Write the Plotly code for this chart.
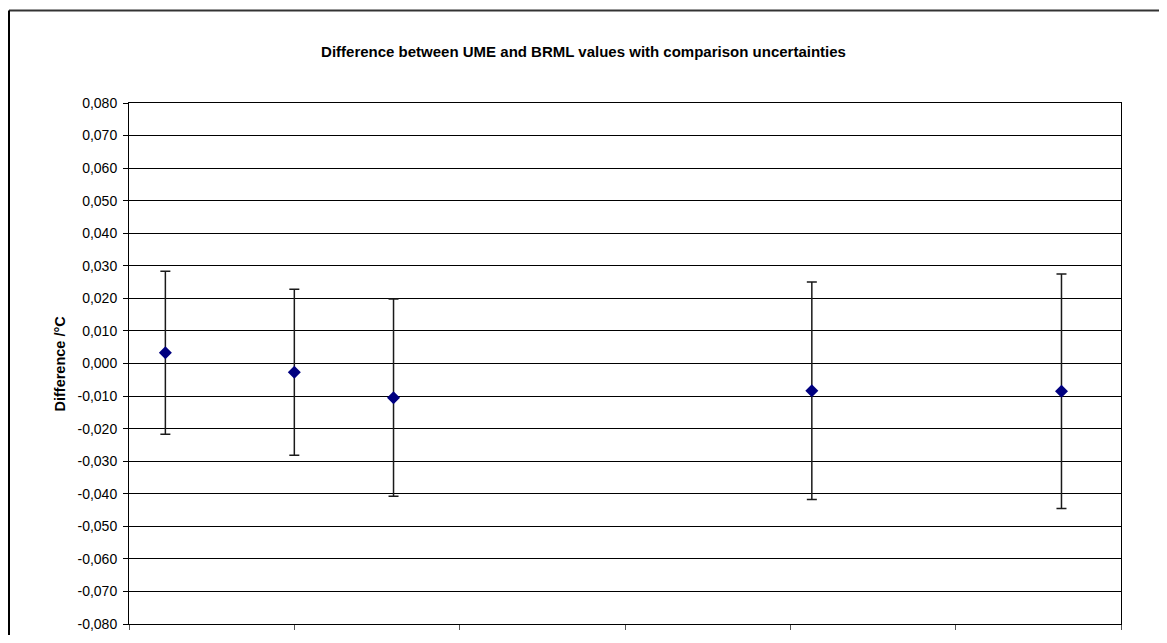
import plotly.graph_objects as go

# Data
x_pos = [0.22, 1.0, 1.6, 4.13, 5.64]
difference = [0.0033, -0.0027, -0.0105, -0.0084, -0.0085]
uncertainty = [0.0250, 0.0255, 0.0303, 0.0334, 0.0360]

y_tick_vals = [0.08, 0.07, 0.06, 0.05, 0.04, 0.03, 0.02, 0.01, 0.0,
               -0.01, -0.02, -0.03, -0.04, -0.05, -0.06, -0.07, -0.08]
y_tick_text = ["0,080", "0,070", "0,060", "0,050", "0,040", "0,030", "0,020", "0,010", "0,000",
               "-0,010", "-0,020", "-0,030", "-0,040", "-0,050", "-0,060", "-0,070", "-0,080"]
x_tick_vals = [0, 1, 2, 3, 4, 5, 6]

title_text = "Difference between UME and BRML values with comparison uncertainties"
y_title = "Difference /°C"

FONT = "Arial, Liberation Sans, sans-serif"

# page body has an 8px margin, so the figure starts at (8, 8) in the window
OFF = 8
W, H = 1167 - 2 * OFF, 643 - 2 * OFF
PL, PR, PT, PB = 129 - OFF, 1121 - OFF, 103 - OFF, 632 - OFF
PW, PH = PR - PL, PB - PT


def px_x(x):
    return (x - OFF - PL) / PW


def px_y(y):
    return (PB - (y - OFF)) / PH


fig = go.Figure()
fig.add_trace(go.Scatter(
    x=x_pos, y=difference, mode="markers",
    marker=dict(symbol="diamond", size=10, color="#000080", line=dict(width=0)),
    error_y=dict(type="data", array=uncertainty, visible=True,
                 color="#1a1a1a", thickness=1.5, width=5),
    showlegend=False, cliponaxis=False,
))

fig.update_layout(
    width=W, height=H,
    margin=dict(l=PL, r=W - PR, t=PT, b=H - PB, pad=0),
    paper_bgcolor="white", plot_bgcolor="white",
    font=dict(family=FONT, size=14, color="black"),
    title=dict(text="<b>" + title_text + "</b>", x=0.5, xref="container", xanchor="center",
               y=1 - (52 - OFF) / H, yref="container", yanchor="middle",
               font=dict(family=FONT, size=15, color="black")),
    xaxis=dict(range=[0, 6], tickvals=x_tick_vals, showticklabels=False,
               ticks="outside", ticklen=5, tickcolor="#555", tickwidth=1,
               showgrid=False, zeroline=False, showline=True, linecolor="black",
               linewidth=1, mirror=True, fixedrange=True),
    yaxis=dict(range=[-0.08, 0.08], tickvals=y_tick_vals, ticktext=y_tick_text,
               ticks="outside", ticklen=5, tickcolor="black", tickwidth=1,
               ticklabelstandoff=3,
               showgrid=True, gridcolor="black", gridwidth=1, zeroline=False,
               showline=True, linecolor="black", linewidth=1, mirror=True,
               tickfont=dict(family=FONT, size=14, color="black"), fixedrange=True),
    annotations=[dict(text="<b>" + y_title + "</b>", xref="paper", yref="paper",
                      x=px_x(59), y=0.5, textangle=-90, showarrow=False,
                      xanchor="center", yanchor="middle",
                      font=dict(family=FONT, size=14.5, color="black"))],
    shapes=[
        dict(type="line", xref="paper", yref="paper",
             x0=px_x(9), x1=px_x(1175),
             y0=px_y(9), y1=px_y(9),
             line=dict(color="#333", width=2)),
        dict(type="line", xref="paper", yref="paper",
             x0=px_x(9), x1=px_x(9),
             y0=px_y(9), y1=px_y(700),
             line=dict(color="black", width=2)),
    ],
)

fig.write_html("out.html")
